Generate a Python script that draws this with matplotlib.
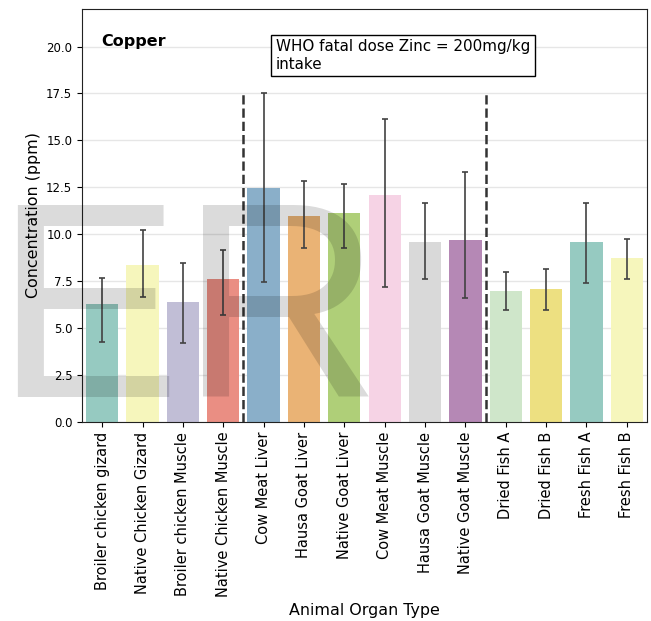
import matplotlib
matplotlib.use("Agg")
import matplotlib.pyplot as plt
import seaborn as sns
import numpy as np

categories = ["Broiler chicken gizard", "Native Chicken Gizard", "Broiler chicken Muscle",
              "Native Chicken Muscle", "Cow Meat Liver", "Hausa Goat Liver", "Native Goat Liver",
              "Cow Meat Muscle", "Hausa Goat Muscle", "Native Goat Muscle", "Dried Fish A",
              "Dried Fish B", "Fresh Fish A", "Fresh Fish B"]
values = [6.28, 8.36, 6.40, 7.61, 12.46, 11.00, 11.13, 12.09, 9.58, 9.71, 7.00, 7.08, 9.58, 8.76]
err_low = [4.27, 6.65, 4.21, 5.71, 7.47, 9.28, 9.28, 7.18, 7.64, 6.58, 5.97, 5.97, 7.38, 7.64]
err_high = [7.66, 10.24, 8.48, 9.16, 17.54, 12.82, 12.68, 16.14, 11.64, 13.33, 8.00, 8.14, 11.64, 9.76]
yticks = [0, 2.5, 5, 7.5, 10, 12.5, 15, 17.5, 20]

pal = sns.color_palette("Set3", 12)
colors = [sns.desaturate(pal[i % 12], 0.75) for i in range(len(categories))]

fig = plt.figure(figsize=(6.51, 6.21), dpi=100)
ax = fig.add_axes([82/651, 1-422/621, 565/651, 413/621])

x = np.arange(len(categories))
vals = np.array(values)
yerr = np.array([vals - np.array(err_low), np.array(err_high) - vals])
ax.bar(x, vals, width=0.8, color=colors, zorder=2)
ax.errorbar(x, vals, yerr=yerr, fmt='none', ecolor='#424242', elinewidth=1.2,
            capsize=2.5, capthick=1.2, zorder=3)

ax.vlines([3.5, 9.5], 0, 17.5, colors='#333333', linestyles='--', linewidth=1.8, zorder=4)

ax.set_xlim(-0.5, len(categories) - 0.5)
ax.set_ylim(0, 22)
ax.set_yticks(yticks)
ax.set_yticklabels([f"{t:.1f}" for t in yticks], fontsize=8.5)
ax.set_xticks(x)
ax.set_xticklabels(categories, rotation=90, fontsize=10.5)
ax.yaxis.grid(True, color='#e6e6e6', linewidth=1, zorder=0)
ax.set_axisbelow(True)
for s in ax.spines.values():
    s.set_color('#222222')
ax.set_xlabel("Animal Organ Type", fontsize=11.4)
ax.set_ylabel("Concentration (ppm)", fontsize=11.4)

ax.text(-0.03, 20.27, "Copper", fontsize=11.5, fontweight='bold', va='center', ha='left')
ax.text(4.30, 19.52, "WHO fatal dose Zinc = 200mg/kg\nintake", fontsize=10.9, va='center',
        ha='left', bbox=dict(facecolor='white', edgecolor='black', boxstyle='square,pad=0.3'),
        zorder=5)

fig.text(-6/651, 224/621, "ER", family='Liberation Sans', fontsize=201, color='black',
         alpha=0.14, ha='left', va='baseline', zorder=10)

fig.savefig("out.png", dpi=100)
